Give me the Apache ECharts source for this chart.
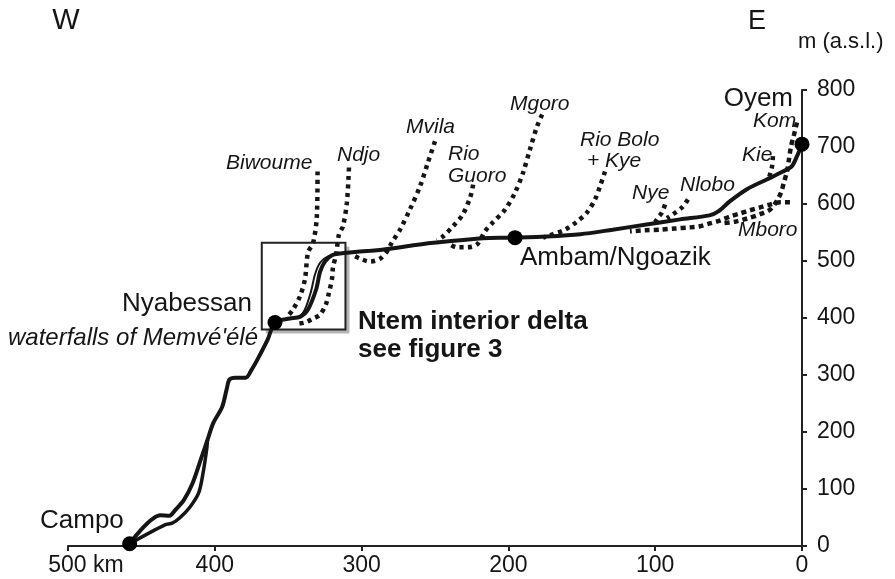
<!DOCTYPE html>
<html>
<head>
<meta charset="utf-8">
<title>Ntem river profile</title>
<script src="https://cdn.jsdelivr.net/npm/echarts@6/dist/echarts.min.js"></script>
<style>
  html, body { margin: 0; padding: 0; background: #fff; }
  #chart { width: 895px; height: 579px; }
</style>
</head>
<body>
<div id="chart"></div>
<script>
// points are [distance to source (km), elevation (m a.s.l.)]
const kmTicks = [500, 400, 300, 200, 100, 0];
const mTicks = [0, 100, 200, 300, 400, 500, 600, 700, 800];

// Ntem main channel, Campo -> Oyem
const ntemMain = [
  [458, 4], [437, 54], [431, 53], [427, 63], [421, 81], [415, 111], [409, 156], [405, 186],
  [401, 216], [395, 244], [392, 274], [390, 292], [386, 295], [379, 295], [375, 309],
  [371, 327], [364, 362], [359, 392], [349, 399], [342, 402], [336.5, 415], [331, 450],
  [328.3, 481], [325, 499], [320.2, 510], [314.7, 513], [308, 515], [294, 518], [285, 520],
  [251, 532], [206, 541], [195.5, 541], [174, 543], [151, 547], [129, 555], [106, 564],
  [83, 573], [63, 580], [57, 587], [49, 605], [37.5, 626], [24, 643], [13, 657], [7, 666],
  [3.4, 684], [0, 705]
];
// second arm near the mouth
const ntemBraid = [
  [458, 4], [434, 37], [429, 40], [424, 49], [417, 68], [411, 93], [408, 128], [405.5, 170], [405, 186]
];
// second arm in the interior delta
const ntemDeltaArm = [
  [342, 402], [338.6, 415], [334.5, 446], [331.8, 476], [328.3, 497], [322.9, 508], [314.7, 513]
];

// tributaries
const biwoume = [[330, 657], [330.5, 578], [333, 532], [336.5, 515], [338.6, 468], [342, 438], [346.7, 415], [351, 401]];
const ndjo = [[308.6, 664], [310, 603], [312.7, 561], [315.4, 547], [317.4, 511], [319.5, 489], [320.2, 468],
  [322.2, 445], [324.3, 424], [328.3, 406], [333, 399], [338.6, 392], [343.3, 390]];
const mvila = [[250, 710], [254.8, 673], [260.2, 631], [267, 591], [273.8, 555], [279.3, 533], [282.7, 517],
  [287.5, 504], [294.3, 499], [301, 504], [306.5, 511]];
const rioGuoro = [[224, 634], [226, 612], [231, 582], [237.7, 561], [244.6, 543], [248.6, 536]];
const mgoro = [[177, 757], [180.5, 736], [185.3, 696], [190, 655], [195.5, 620], [202.3, 590], [210.5, 568],
  [216, 552], [221.4, 529], [228.2, 524], [235, 524], [239.8, 529]];
const rioBoloKye = [[134.2, 657], [137.6, 631], [141, 608], [146.5, 585], [153.3, 569], [161.4, 555], [169.6, 547], [176.4, 541]];
const nye = [[93.3, 599], [95.4, 585], [98.1, 576], [100.1, 568]];
const nlobo = [[77.7, 608], [81.7, 594], [87.9, 582], [92, 575]];
const kie = [[19.8, 684], [20.4, 666], [21.8, 652], [23.2, 641]];
const kom = [[3.4, 743], [5.4, 722], [7.5, 701], [8.9, 678], [10.2, 657], [12.3, 638], [14.3, 620],
  [17.7, 603], [21.8, 590], [28.6, 582], [36.8, 575], [45.6, 569], [55, 566]];
const mboro = [[8.2, 603], [15, 603], [21.8, 599], [28.6, 594], [35.4, 589], [42.2, 583.5], [49, 578],
  [55.9, 571], [62.7, 566], [69.5, 561], [76.3, 559], [86.5, 557], [96.7, 555], [106.9, 554], [117.2, 552]];

const towns = [[458, 4], [359, 392], [195.5, 541], [0, 705]]; // Campo, Nyabessan, Ambam, Oyem
const deltaBox = [[368, 532], [311, 380]];

const FONT = '"Liberation Sans", Arial, Helvetica, sans-serif';
const INK = '#151515';

function label(x, y, str, size, extra) {
  const style = Object.assign({
    text: str,
    fontFamily: FONT,
    fontSize: size,
    fill: INK,
    align: 'left',
    textAlign: 'left',
    verticalAlign: 'middle',
    textVerticalAlign: 'middle'
  }, extra || {});
  if (style.align !== 'left') style.textAlign = style.align;
  return { type: 'text', x: x, y: y, z: 100, style: style };
}

const dotted = (name, data, dash) => ({
  name: name,
  type: 'line',
  data: data,
  smooth: 0.3,
  symbol: 'none',
  lineStyle: { color: INK, width: 4.5, type: dash || [4, 4.5], cap: 'butt' },
  z: 3
});

// the delta frame: a white card with a flat grey drop shadow, then the outline on top
const boxLayer = (name, z, itemStyle) => ({
  name: name,
  type: 'line',
  data: [],
  z: z,
  markArea: {
    silent: true,
    itemStyle: itemStyle,
    data: [[{ coord: deltaBox[0] }, { coord: deltaBox[1] }]]
  }
});

const chart = echarts.init(document.getElementById('chart'));
chart.setOption({
  animation: false,
  backgroundColor: '#fff',
  grid: { left: 68, right: 93, top: 90, bottom: 33 },
  xAxis: {
    type: 'value',
    min: 0,
    max: 500,
    interval: 100,
    inverse: true,
    axisLine: { show: true, lineStyle: { color: '#222', width: 2 } },
    axisTick: { show: true, length: 5, lineStyle: { color: '#222', width: 2 } },
    splitLine: { show: false },
    axisLabel: {
      fontFamily: FONT,
      fontSize: 23,
      color: INK,
      margin: 8,
      formatter(v) {
        return v === kmTicks[0] ? '{a|' + v + ' km}' : String(v);
      },
      rich: {
        a: { fontFamily: FONT, fontSize: 23, color: INK, padding: [0, 0, 0, 36] }
      }
    }
  },
  yAxis: {
    type: 'value',
    position: 'right',
    min: mTicks[0],
    max: mTicks[mTicks.length - 1],
    interval: 100,
    axisLine: { show: true, onZero: false, lineStyle: { color: '#222', width: 2 } },
    axisTick: { show: true, length: 5, lineStyle: { color: '#222', width: 2 } },
    splitLine: { show: false },
    axisLabel: { fontFamily: FONT, fontSize: 23, color: INK, margin: 15 }
  },
  series: [
    boxLayer('box shadow', 1, {
      color: '#fff',
      borderWidth: 0,
      shadowColor: '#b5b5b5',
      shadowBlur: 0,
      shadowOffsetX: 4,
      shadowOffsetY: 4
    }),
    boxLayer('box', 2, {
      color: 'rgba(0,0,0,0)',
      borderColor: '#222',
      borderWidth: 2
    }),
    dotted('Biwoume', biwoume),
    dotted('Ndjo', ndjo),
    dotted('Mvila', mvila),
    dotted('Rio Guoro', rioGuoro),
    dotted('Mgoro', mgoro),
    dotted('Rio Bolo + Kye', rioBoloKye),
    dotted('Nye', nye),
    dotted('Nlobo', nlobo),
    dotted('Kie', kie),
    dotted('Kom', kom, [5, 4]),
    dotted('Mboro', mboro, [5, 4]),
    {
      name: 'Ntem arm',
      type: 'line',
      data: ntemBraid,
      smooth: 0.3,
      symbol: 'none',
      lineStyle: { color: INK, width: 3.5 },
      z: 4
    },
    {
      name: 'Ntem delta arm',
      type: 'line',
      data: ntemDeltaArm,
      smooth: 0.3,
      symbol: 'none',
      lineStyle: { color: INK, width: 2 },
      z: 4
    },
    {
      name: 'Ntem',
      type: 'line',
      data: ntemMain,
      smooth: 0.3,
      symbol: 'none',
      lineStyle: { color: INK, width: 4 },
      z: 5
    },
    {
      name: 'towns',
      type: 'scatter',
      data: towns,
      symbol: 'circle',
      symbolSize: 15,
      itemStyle: { color: '#000', opacity: 1 },
      z: 6
    }
  ],
  graphic: [
    label(66, 21, 'W', 29, { align: 'center' }),
    label(757, 22, 'E', 27, { align: 'center' }),
    label(798, 42, 'm (a.s.l.)', 22),
    label(793, 99, 'Oyem', 26, { align: 'right' }),
    label(520, 258, 'Ambam/Ngoazik', 26),
    label(252, 304, 'Nyabessan', 26, { align: 'right' }),
    label(40, 521, 'Campo', 26),
    label(258, 338, "waterfalls of Memvé'élé", 24, { align: 'right', fontStyle: 'italic' }),
    label(358, 308, 'Ntem interior delta\nsee figure 3', 26, { fontWeight: 'bold', verticalAlign: 'top', textVerticalAlign: 'top', lineHeight: 28 }),
    label(226, 163, 'Biwoume', 21, { fontStyle: 'italic' }),
    label(337, 155, 'Ndjo', 21, { fontStyle: 'italic' }),
    label(406, 127, 'Mvila', 21, { fontStyle: 'italic' }),
    label(448, 154, 'Rio', 21, { fontStyle: 'italic' }),
    label(448, 176, 'Guoro', 21, { fontStyle: 'italic' }),
    label(510, 104, 'Mgoro', 21, { fontStyle: 'italic' }),
    label(580, 140, 'Rio Bolo', 21, { fontStyle: 'italic' }),
    label(587, 161, '+ Kye', 21, { fontStyle: 'italic' }),
    label(632, 193, 'Nye', 21, { fontStyle: 'italic' }),
    label(680, 185, 'Nlobo', 21, { fontStyle: 'italic' }),
    label(742, 155, 'Kie', 21, { fontStyle: 'italic' }),
    label(753, 121, 'Kom', 21, { fontStyle: 'italic' }),
    label(738, 230, 'Mboro', 21, { fontStyle: 'italic' })
  ]
});
</script>
</body>
</html>
